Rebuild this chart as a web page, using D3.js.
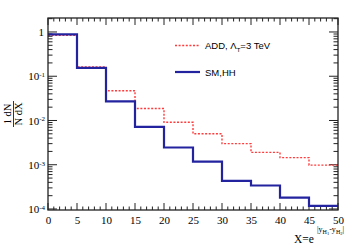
<!DOCTYPE html>
<html>
<head>
<meta charset="utf-8">
<script src="https://cdn.jsdelivr.net/npm/d3@7"></script>
<style>
  body { margin: 0; background: #fff; }
  svg { display: block; }
  .tick text { font-family: "Liberation Serif", serif; font-size: 11px; fill: #000; }
</style>
</head>
<body>
<div id="chart"></div>
<script>
// bin edges and values
var binEdges = [0, 5, 10, 15, 20, 25, 30, 35, 40, 45, 50];
var smHH = [0.88, 0.155, 0.027, 0.0072, 0.00245, 0.00118, 0.00043, 0.00034, 0.00018, 0.000118];
var addLT3 = [0.84, 0.162, 0.047, 0.0186, 0.0091, 0.0050, 0.0030, 0.0019, 0.00145, 0.00098];
var xTicks = [0, 5, 10, 15, 20, 25, 30, 35, 40, 45, 50];
var yTicks = [1, 1e-1, 1e-2, 1e-3, 1e-4];
var yTickExp = ["", "-1", "-2", "-3", "-4"];

var W = 363, H = 246;
var margin = {top: 18, right: 25, bottom: 36, left: 48},
    width = W - margin.left - margin.right,
    height = H - margin.top - margin.bottom;

var svg = d3.select("#chart").append("svg")
    .attr("width", W)
    .attr("height", H);
var g = svg.append("g")
    .attr("transform", "translate(" + margin.left + "," + margin.top + ")");

var x = d3.scaleLinear().domain([0, 50]).range([0, width]);
var y = d3.scaleLog().domain([9.49e-5, 2.07]).range([height, 0]);

// minor ticks
var xMinor = d3.range(0, 51, 1);
var yMinor = [];
[-5, -4, -3, -2, -1, 0].forEach(function(e) {
  for (var m = 2; m <= 9; m++) {
    var v = m * Math.pow(10, e);
    if (v > y.domain()[0] && v < y.domain()[1]) yMinor.push(v);
  }
});

var tickCol = "#222";
var axes = g.append("g").attr("stroke", tickCol).attr("stroke-width", 1);

// bottom / top ticks
xMinor.forEach(function(v) {
  var len = (v % 5 === 0) ? 7 : 3.5;
  axes.append("line").attr("x1", x(v)).attr("x2", x(v)).attr("y1", height).attr("y2", height - len);
  axes.append("line").attr("x1", x(v)).attr("x2", x(v)).attr("y1", 0).attr("y2", len);
});
// left / right ticks
yTicks.forEach(function(v) {
  axes.append("line").attr("x1", 0).attr("x2", 9).attr("y1", y(v)).attr("y2", y(v));
  axes.append("line").attr("x1", width).attr("x2", width - 9).attr("y1", y(v)).attr("y2", y(v));
});
yMinor.forEach(function(v) {
  axes.append("line").attr("x1", 0).attr("x2", 4.5).attr("y1", y(v)).attr("y2", y(v));
  axes.append("line").attr("x1", width).attr("x2", width - 4.5).attr("y1", y(v)).attr("y2", y(v));
});

// x tick labels via axis
var xAxis = d3.axisBottom(x).tickValues(xTicks).tickSize(0).tickPadding(6).tickFormat(d3.format("d"));
var gx = g.append("g")
    .attr("transform", "translate(0," + height + ")")
    .call(xAxis);
gx.select(".domain").remove();

// y tick labels
var yAxis = d3.axisLeft(y).tickValues(yTicks).tickSize(0).tickPadding(6).tickFormat("");
var gy = g.append("g").call(yAxis);
gy.select(".domain").remove();
gy.selectAll(".tick").each(function(d, i) {
  var t = d3.select(this).select("text")
      .attr("x", i === 0 ? -4 : -3)
      .attr("dy", "0.32em");
  if (i === 0) {
    t.text("1");
  } else {
    t.append("tspan").text("10");
    t.append("tspan").attr("dy", "-0.45em").attr("font-size", "7px").text(yTickExp[i]);
  }
});

// histograms
var step = function(vals) {
  var pts = [];
  vals.forEach(function(v, i) {
    pts.push([x(binEdges[i]), y(v)]);
    pts.push([x(binEdges[i + 1]), y(v)]);
  });
  return d3.line()(pts);
};

g.append("path")
    .attr("d", step(addLT3))
    .attr("fill", "none")
    .attr("stroke", "#ff3b3b")
    .attr("stroke-width", 1.4)
    .attr("stroke-dasharray", "2,1.6");

g.append("path")
    .attr("d", step(smHH))
    .attr("fill", "none")
    .attr("stroke", "#2323a0")
    .attr("stroke-width", 2.2);

// frame
g.append("rect")
    .attr("width", width).attr("height", height)
    .attr("fill", "none").attr("stroke", tickCol).attr("stroke-width", 1.3);

// legend
var leg = svg.append("g").attr("font-family", "'Liberation Sans', Arial, sans-serif").attr("font-size", "9.5px");
leg.append("line").attr("x1", 175).attr("x2", 200).attr("y1", 45.5).attr("y2", 45.5)
    .attr("stroke", "#ff3b3b").attr("stroke-width", 1.4).attr("stroke-dasharray", "2,1.6");
var t1 = leg.append("text").attr("x", 205).attr("y", 49);
t1.append("tspan").text("ADD, \u039B");
t1.append("tspan").attr("dy", "2.5").attr("font-size", "6px").text("T");
t1.append("tspan").attr("dy", "-2.5").text("=3 TeV");
leg.append("line").attr("x1", 175).attr("x2", 200).attr("y1", 72).attr("y2", 72)
    .attr("stroke", "#2323a0").attr("stroke-width", 2.2);
leg.append("text").attr("x", 205).attr("y", 75.5).text("SM,HH");

// y title: (1/N) dN/dX rotated
var yt = svg.append("g")
    .attr("transform", "translate(13,114) rotate(-90)")
    .attr("font-family", "'Liberation Serif', serif")
    .attr("font-size", "10.5px");
yt.append("text").attr("x", 0).attr("y", -2).attr("text-anchor", "middle").text("1 dN");
yt.append("line").attr("x1", -13).attr("x2", 13).attr("y1", 0.5).attr("y2", 0.5).attr("stroke", "#000").attr("stroke-width", 0.8);
yt.append("text").attr("x", 0).attr("y", 9).attr("text-anchor", "middle").text("N dX");

// x title
var xt = svg.append("text")
    .attr("x", 294).attr("y", 243)
    .attr("font-family", "'Liberation Serif', serif")
    .attr("font-size", "11.5px");
xt.append("tspan").text("X=e");
var sup = svg.append("text").attr("x", 317).attr("y", 232)
    .attr("font-family", "'Liberation Serif', serif").attr("font-size", "8px");
sup.append("tspan").text("|y");
sup.append("tspan").attr("dy", "2").attr("font-size", "6px").text("H");
sup.append("tspan").attr("dy", "1").attr("font-size", "4.5px").text("1");
sup.append("tspan").attr("dy", "-3").text("-y");
sup.append("tspan").attr("dy", "2").attr("font-size", "6px").text("H");
sup.append("tspan").attr("dy", "1").attr("font-size", "4.5px").text("2");
sup.append("tspan").attr("dy", "-3").text("|");
</script>
</body>
</html>
